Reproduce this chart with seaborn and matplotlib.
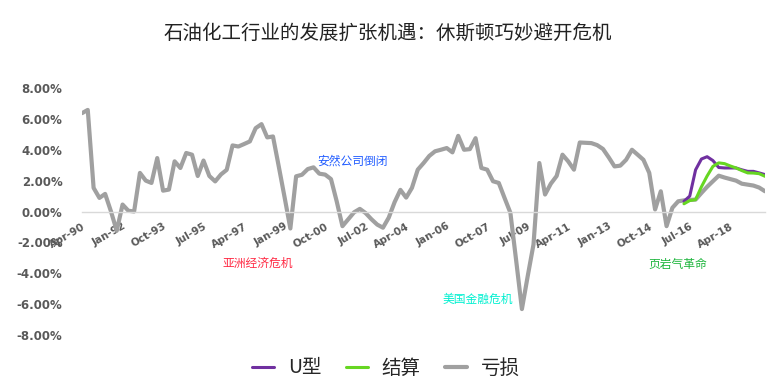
import pandas as pd
import numpy as np
import seaborn as sns
import matplotlib.pyplot as plt
from matplotlib.ticker import FuncFormatter

# =========================
# data (quarterly, Apr-90 .. Oct-19), values in %
# =========================
loss = [
    6.37, 6.58, 1.53, 0.88, 1.14, 0.02, -1.25, 0.45, 0.05, 0.00,
    2.50, 2.00, 1.85, 3.46, 1.35, 1.42, 3.25, 2.82, 3.79, 3.68,
    2.30, 3.30, 2.30, 1.95, 2.40, 2.70, 4.28, 4.21, 4.37, 4.54,
    5.40, 5.66, 4.80, 4.86, 2.90, 0.90, -1.10, 2.28, 2.38, 2.75,
    2.86, 2.45, 2.39, 2.10, 0.66, -0.95, -0.50, -0.05, 0.17, -0.10,
    -0.50, -0.85, -1.05, -0.40, 0.60, 1.40, 0.90, 1.53, 2.71, 3.14,
    3.60, 3.90, 4.00, 4.11, 3.83, 4.90, 4.00, 4.04, 4.75, 2.82,
    2.71, 1.96, 1.85, 0.88, -0.08, -3.20, -6.32, -4.20, -2.13, 3.14,
    1.10, 1.80, 2.30, 3.68, 3.25, 2.71, 4.47, 4.45, 4.43, 4.30,
    4.05, 3.50, 2.92, 2.97, 3.35, 4.00, 3.68, 3.35, 2.50, 0.13,
    1.31, -0.95, 0.24, 0.66, 0.72, 0.75, 0.77, 1.20, 1.60, 1.96,
    2.32, 2.20, 2.10, 2.00, 1.80, 1.74, 1.68, 1.55, 1.31,
]
start_q = 104
u_shape = [0.66, 1.00, 2.70, 3.40, 3.55, 3.30, 2.85, 2.82, 2.82, 2.82, 2.70, 2.60, 2.60, 2.50, 2.39]
settle = [0.50, 0.71, 0.77, 1.60, 2.30, 2.92, 3.15, 3.10, 2.95, 2.82, 2.65, 2.50, 2.49, 2.45, 2.28]

series_names = ["U型", "结算", "亏损"]
series_colors = ["#7030a0", "#66d622", "#a0a0a0"]

events = ["安然公司倒闭", "亚洲经济危机", "美国金融危机", "页岩气革命"]
event_q = [46.6, 30.2, 68.2, 103.1]
event_y = [3.24, -3.37, -5.70, -3.43]
event_colors = ["#1f5bff", "#ff2a44", "#00f0d0", "#1db53c"]

title = "石油化工行业的发展扩张机遇：休斯顿巧妙避开危机"

dates = pd.date_range("1990-04-01", periods=len(loss), freq="3MS")
df_loss = pd.DataFrame({"date": dates, "value": loss})
df_u = pd.DataFrame({"date": dates[start_q:], "value": u_shape})
df_s = pd.DataFrame({"date": dates[start_q:], "value": settle})

# =========================
# plot
# =========================
sns.set_theme(style="white")
plt.rcParams["font.family"] = ["DejaVu Sans", "Noto Sans CJK SC"]
cjk = ["Noto Sans CJK SC", "DejaVu Sans"]

fig = plt.figure(figsize=(7.75, 3.88), dpi=100)
ax = fig.add_axes([82 / 775, 1 - 335 / 388, (765 - 82) / 775, (335 - 88) / 388])

sns.lineplot(data=df_loss, x="date", y="value", ax=ax, color=series_colors[2],
             linewidth=3.0, label=series_names[2])
sns.lineplot(data=df_u, x="date", y="value", ax=ax, color=series_colors[0],
             linewidth=2.2, label=series_names[0])
sns.lineplot(data=df_s, x="date", y="value", ax=ax, color=series_colors[1],
             linewidth=2.2, label=series_names[1])

ax.set_ylim(-8, 8)
ax.set_xlim(dates[0], dates[-1])
ax.set_yticks(np.arange(-8, 9, 2))
ax.yaxis.set_major_formatter(FuncFormatter(lambda v, p: f"{v:.2f}%"))
ax.set_xticks(dates[::7])
ax.set_xticklabels(dates[::7].strftime("%b-%y"))
ax.set_xlabel("")
ax.set_ylabel("")

for s in ["top", "right", "left"]:
    ax.spines[s].set_visible(False)
ax.spines["bottom"].set_position(("data", 0))
ax.spines["bottom"].set_color("#d9d9d9")
ax.spines["bottom"].set_linewidth(1.0)

ax.tick_params(axis="y", length=0, pad=14, labelsize=8.5, labelcolor="#595959")
ax.tick_params(axis="x", length=0, pad=7, labelsize=7.5, labelcolor="#595959")
for lab in ax.get_yticklabels():
    lab.set_fontweight("bold")
for lab in ax.get_xticklabels():
    lab.set_fontweight("bold")
    lab.set_rotation(30)
    lab.set_ha("right")
    lab.set_va("top")
    lab.set_rotation_mode("anchor")

for txt, q, yv, c in zip(events, event_q, event_y, event_colors):
    d = dates[0] + pd.DateOffset(months=int(round(q * 3)))
    ax.text(d, yv, txt, color=c, fontsize=8.5, family=cjk, ha="center", va="center")

fig.text(0.5, 1 - 33 / 388, title, ha="center", va="center", fontsize=14,
         family=cjk, color="#222222")

handles, labels = ax.get_legend_handles_labels()
order = [labels.index(n) for n in series_names]
ax.get_legend().remove()
fig.legend([handles[i] for i in order], [labels[i] for i in order],
           loc="center", bbox_to_anchor=(386 / 775, 1 - 368 / 388), ncol=3, frameon=False,
           prop={"family": cjk, "size": 14}, handlelength=1.15, handletextpad=0.7,
           columnspacing=1.25)

fig.savefig("out.png", dpi=100)
